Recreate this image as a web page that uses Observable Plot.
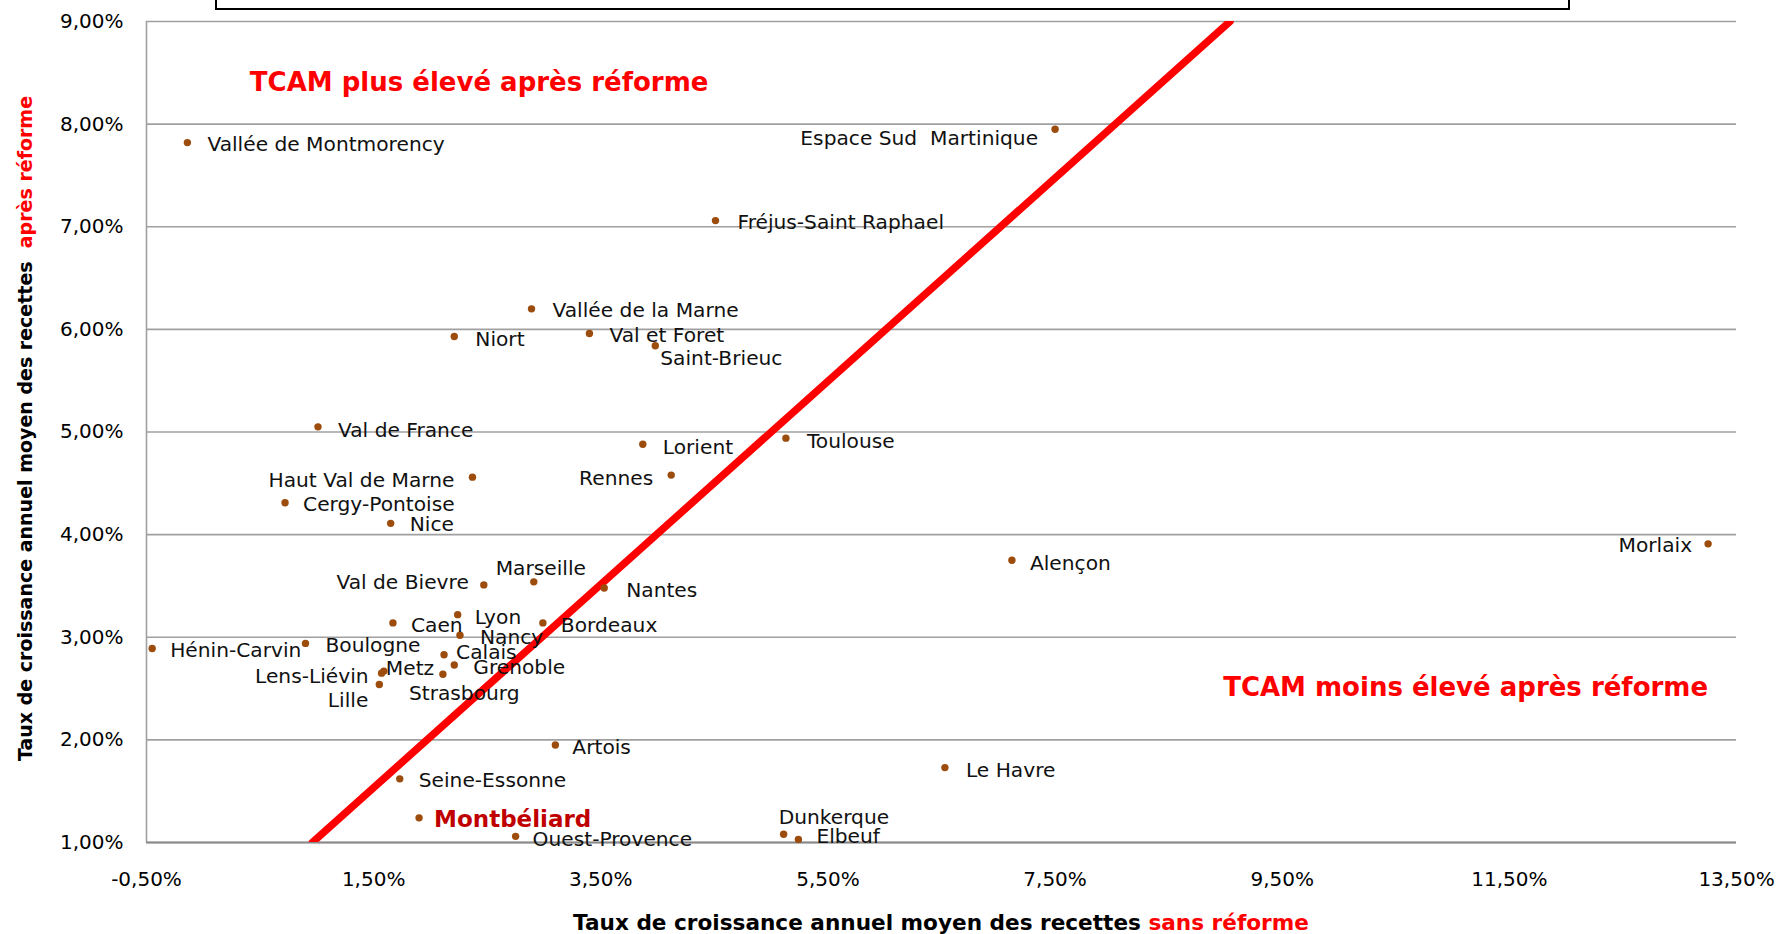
<!DOCTYPE html>
<html><head><meta charset="utf-8">
<script src="https://cdn.jsdelivr.net/npm/d3@7"></script>
<script src="https://cdn.jsdelivr.net/npm/@observablehq/plot@0.6"></script>
<style>
body{margin:0;background:#fff;}
#wrap{position:relative;width:1778px;height:934px;overflow:hidden;background:#fff;}
#box{position:absolute;left:215px;top:-30px;width:1351px;height:36px;border:2px solid #000;background:#fff;z-index:2;}
</style></head><body><div id="wrap"><div id="box"></div><div id="chart"></div></div>
<script>
// ---- data ----
const names = ["Vallée de Montmorency","Espace Sud  Martinique","Fréjus-Saint Raphael","Vallée de la Marne","Niort","Val et Foret","Saint-Brieuc","Val de France","Lorient","Toulouse","Haut Val de Marne","Rennes","Cergy-Pontoise","Nice","Morlaix","Alençon","Marseille","Val de Bievre","Nantes","Caen","Lyon","Bordeaux","Nancy","Hénin-Carvin","Boulogne","Calais","Grenoble","Metz","Lens-Liévin","Strasbourg","Lille","Artois","Seine-Essonne","Le Havre","Montbéliard","Dunkerque","Ouest-Provence","Elbeuf"];
const tcamSansReforme = [-0.14,7.50,4.51,2.89,2.21,3.40,3.98,1.01,3.87,5.13,2.37,4.12,0.72,1.65,13.25,7.12,2.91,2.47,3.53,1.67,2.24,2.99,2.26,-0.45,0.90,2.12,2.21,1.59,1.57,2.11,1.55,3.10,1.73,6.53,1.90,5.11,2.75,5.24];
const tcamApresReforme = [7.82,7.95,7.06,6.20,5.93,5.96,5.84,5.05,4.88,4.94,4.56,4.58,4.31,4.11,3.91,3.75,3.54,3.51,3.48,3.14,3.22,3.14,3.02,2.89,2.94,2.83,2.73,2.67,2.65,2.64,2.54,1.95,1.62,1.73,1.24,1.08,1.06,1.03];
const xTicks = [-0.5,1.5,3.5,5.5,7.5,9.5,11.5,13.5];
const yTicks = [1,2,3,4,5,6,7,8,9];
const diagX = [0.96, 9.04];
const diagY = [1, 9];
const zoneTexts = ["TCAM plus élevé après réforme","TCAM moins élevé après réforme"];
const zoneX = [0.41, 8.98];
const zoneY = [8.40, 2.51];
const highlighted = "Montbéliard";

// ---- label placement (anchor, dx, dy in px) ----
const placement = {
  "Vallée de Montmorency":["start",20,2],
  "Espace Sud  Martinique":["end",-17,9],
  "Fréjus-Saint Raphael":["start",22,2],
  "Vallée de la Marne":["start",21,2],
  "Niort":["start",21,3],
  "Val et Foret":["start",20,2],
  "Saint-Brieuc":["start",5,13],
  "Val de France":["start",20,4],
  "Lorient":["start",20,3],
  "Toulouse":["start",21,3],
  "Haut Val de Marne":["end",-18,3],
  "Rennes":["end",-18,3],
  "Cergy-Pontoise":["start",18,2],
  "Nice":["start",19,1],
  "Morlaix":["end",-16,2],
  "Alençon":["start",18,3],
  "Marseille":["middle",7,-13],
  "Val de Bievre":["end",-15,-2],
  "Nantes":["start",22,3],
  "Caen":["start",18,3],
  "Lyon":["start",17,3],
  "Bordeaux":["start",18,3],
  "Nancy":["start",20,2],
  "Hénin-Carvin":["start",18,2],
  "Boulogne":["start",20,2],
  "Calais":["start",12,-2],
  "Grenoble":["start",19,3],
  "Metz":["start",2,-3],
  "Lens-Liévin":["end",-13,3],
  "Strasbourg":["start",-34,19],
  "Lille":["end",-11,16],
  "Artois":["start",17,3],
  "Seine-Essonne":["start",19,2],
  "Le Havre":["start",21,3],
  "Montbéliard":["start",15,2],
  "Dunkerque":["start",-5,-17],
  "Ouest-Provence":["start",17,3],
  "Elbeuf":["start",18,-3]
};

const fmt = d => d.toFixed(2).replace(".", ",") + "%";
const pts = names.map((n,i)=>({name:n, x:tcamSansReforme[i], y:tcamApresReforme[i]}));
const diag = diagX.map((x,i)=>({x, y:diagY[i]}));
const zones = zoneTexts.map((t,i)=>({t, x:zoneX[i], y:zoneY[i]}));

const labelMarks = pts.map(d => {
  const [a, dx, dy] = placement[d.name];
  const hi = d.name === highlighted;
  return Plot.text([d], {x:"x", y:"y", text:"name", textAnchor:a, dx, dy,
    fill: hi ? "#c00000" : "#111",
    fontWeight: hi ? "bold" : "normal",
    fontSize: hi ? 23 : 20.2});
});

const plot = Plot.plot({
  width:1778, height:934,
  marginLeft:146, marginRight:42, marginTop:21, marginBottom:92,
  style:{fontFamily:"'DejaVu Sans', sans-serif", fontSize:"20px", color:"#000", background:"transparent", overflow:"visible"},
  x:{domain:[-0.5,13.5], ticks:xTicks, tickFormat:fmt, label:null, tickSize:0, tickPadding:29},
  y:{domain:[1,9], ticks:yTicks, tickFormat:fmt, label:null, tickSize:0, tickPadding:23},
  marks:[
    Plot.ruleY(yTicks, {stroke:"#a0a0a0", strokeWidth:1.6}),
    Plot.ruleX([xTicks[0]], {stroke:"#a0a0a0", strokeWidth:1.6}),
    Plot.ruleY([yTicks[0]], {stroke:"#8a8a8a", strokeWidth:2}),
    Plot.line(diag, {x:"x", y:"y", stroke:"#ff0000", strokeWidth:7.5, clip:true}),
    Plot.dot(pts, {x:"x", y:"y", r:3.7, fill:"#9c4c0c", stroke:"none"}),
    ...labelMarks,
    Plot.text(zones, {x:"x", y:"y", text:"t", textAnchor:"start", fill:"#ff0000", fontWeight:"bold", fontSize:26})
  ]
});
document.getElementById("chart").appendChild(plot);

// axis titles with two-colour text
const svg = d3.select(plot);
const xs = plot.scale("x").range, ys = plot.scale("y").range;
const xt = svg.append("text")
  .attr("x", (xs[0]+xs[1])/2).attr("y", 930)
  .attr("text-anchor","middle").attr("font-weight","bold").attr("font-size",21.6).attr("fill","#000");
xt.append("tspan").text("Taux de croissance annuel moyen des recettes ");
xt.append("tspan").attr("fill","#ff0000").text("sans réforme");
const yt = svg.append("text")
  .attr("transform", `translate(32,${(ys[0]+ys[1])/2 - 3}) rotate(-90)`)
  .attr("text-anchor","middle").attr("font-weight","bold").attr("font-size",19).attr("fill","#000");
yt.append("tspan").text("Taux de croissance annuel moyen des recettes\u00a0 ");
yt.append("tspan").attr("fill","#ff0000").text("après réforme");
</script>
</body></html>
